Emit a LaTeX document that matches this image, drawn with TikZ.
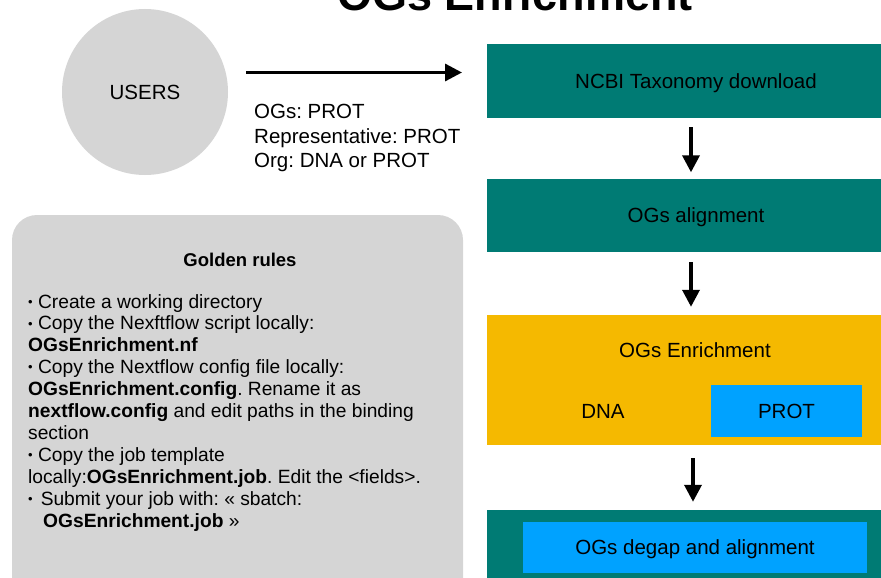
\documentclass[tikz,border=0pt]{standalone}
\usepackage{fontspec}
\setmainfont{Liberation Sans}
\usetikzlibrary{arrows.meta}
\definecolor{tealbox}{HTML}{007B74}
\definecolor{amberbox}{HTML}{F5B900}
\definecolor{skybox}{HTML}{00A2FF}
\definecolor{panelgray}{HTML}{D5D5D5}
\newcommand{\dotmark}{{\fontsize{13}{13}\selectfont\raisebox{1.8pt}{•}}}
\begin{document}
\frenchspacing
\begin{tikzpicture}[x=1pt,y=-1pt,
  boxtext/.style={font=\fontsize{20.5}{24}\selectfont, text height=14.8pt, text depth=0pt},
  stage/.style={fill=tealbox, inner sep=0pt, minimum width=418pt, boxtext},
  subbox/.style={fill=skybox, inner sep=0pt, boxtext},
  plain/.style={inner sep=0pt, boxtext},
  rule/.style={inner sep=0pt, anchor=base west, font=\fontsize{19.2}{22}\selectfont},
  flow/.style={line width=3.5pt, -{Triangle[length=17pt, width=17pt]}}]
\useasboundingbox (0,0) rectangle (881,578);
\clip (0,0) rectangle (881,578);

% title
\node[inner sep=0pt, anchor=base, font=\fontsize{45}{50}\selectfont\bfseries] (title) at (515,11) {OGs Enrichment};

% users and input description
\node[circle, fill=panelgray, minimum size=166pt, inner sep=0pt, boxtext] (users) at (145,92) {USERS};
\coordinate (in0) at (246,72.5);
\coordinate (in1) at (462,72.5);
\draw[flow, line width=3.2pt] (in0) -- (in1);
\node[inner sep=0pt, anchor=base west, font=\fontsize{20.5}{24}\selectfont] (t1) at (254,118.5) {OGs: PROT};
\node[inner sep=0pt, anchor=base west, font=\fontsize{20.5}{24}\selectfont] (t2) at (254,143) {Representative: PROT};
\node[inner sep=0pt, anchor=base west, font=\fontsize{20.5}{24}\selectfont] (t3) at (254,167.5) {Org: DNA or PROT};

% pipeline stages
\node[stage, minimum height=74pt] (ncbi) at (696,81) {NCBI Taxonomy download};
\node[stage, minimum height=73pt] (aln) at (696,215.5) {OGs alignment};
\node[fill=amberbox, inner sep=0pt, minimum width=418pt, minimum height=130pt] (enr) at (696,380) {};
\node[plain] (enrlab) at (695,350) {OGs Enrichment};
\node[plain] (dna) at (603,411) {DNA};
\node[subbox, minimum width=151pt, minimum height=52pt] (prot) at (786.5,411) {PROT};
\node[stage, minimum height=80pt] (degap) at (696,550) {};
\node[subbox, minimum width=344pt, minimum height=51pt] (degaplab) at (695,547.5) {OGs degap and alignment};

\draw[flow, shorten <=9pt, shorten >=6.5pt] ([xshift=-5pt]ncbi.south) -- ([xshift=-5pt]aln.north);
\draw[flow, shorten <=10pt, shorten >=8pt] ([xshift=-5pt]aln.south) -- ([xshift=-5pt]enr.north);
\draw[flow, shorten <=13pt, shorten >=8pt] ([xshift=-3pt]enr.south) -- ([xshift=-3pt]degap.north);

% golden rules panel
\draw[fill=panelgray, draw=none, rounded corners=25pt] (12,215) rectangle (463,610);
\node[inner sep=0pt, anchor=base, font=\fontsize{18.5}{22}\selectfont\bfseries] (gold) at (240,266) {Golden rules};
\node[rule] (r1) at (28,308) {\dotmark\ Create a working directory};
\node[rule] (r2) at (28,329.9) {\dotmark\ Copy the Nexftflow script locally:};
\node[rule] (r3) at (28,351.8) {\textbf{OGsEnrichment.nf}};
\node[rule] (r4) at (28,373.7) {\dotmark\ Copy the Nextflow config file locally:};
\node[rule] (r5) at (28,395.6) {\textbf{OGsEnrichment.config}. Rename it as};
\node[rule] (r6) at (28,417.5) {\textbf{nextflow.config} and edit paths in the binding};
\node[rule] (r7) at (28,439.4) {section};
\node[rule] (r8) at (28,461.3) {\dotmark\ Copy the job template};
\node[rule] (r9) at (28,483.2) {locally:\textbf{OGsEnrichment.job}. Edit the <fields>.};
\node[rule] (r10) at (28,505.1) {\dotmark\hspace{8pt}Submit your job with: « sbatch:};
\node[rule] (r11) at (43,527) {\textbf{OGsEnrichment.job} »};
\end{tikzpicture}
\end{document}
